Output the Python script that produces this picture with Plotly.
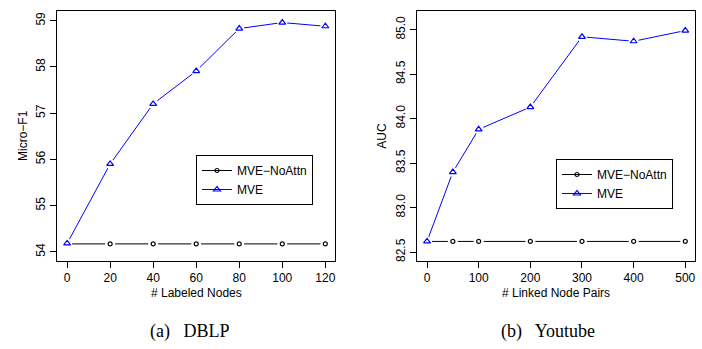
import plotly.graph_objects as go

# ---- data ----
dblp_x = [0, 20, 40, 60, 80, 100, 120]
dblp_noattn = [54.17, 54.17, 54.17, 54.17, 54.17, 54.17, 54.17]
dblp_mve = [54.18, 55.90, 57.20, 57.91, 58.83, 58.96, 58.88]

yt_x = [0, 50, 100, 200, 300, 400, 500]
yt_noattn = [82.62, 82.62, 82.62, 82.62, 82.62, 82.62, 82.62]
yt_mve = [82.62, 83.40, 83.88, 84.13, 84.92, 84.87, 84.99]

dblp_yticks = [54, 55, 56, 57, 58, 59]
dblp_xticks = [0, 20, 40, 60, 80, 100, 120]
yt_yticks = [82.5, 83.0, 83.5, 84.0, 84.5, 85.0]
yt_xticks = [0, 100, 200, 300, 400, 500]

W, H = 702, 349
SANS = "Liberation Sans, Arial, sans-serif"
SERIF = "Liberation Serif, Times New Roman, serif"

fig = go.Figure()

def add_series(x, y, name, color, symbol, size, xa, ya, legend):
    # main trace (line + markers, shown in legend)
    fig.add_trace(go.Scatter(
        x=x, y=y, mode="lines+markers", name=name,
        xaxis=xa, yaxis=ya, legend=legend,
        line=dict(color=color, width=1),
        marker=dict(symbol=symbol, size=size, color=color, line=dict(width=1.2)),
    ))
    # white halo to make gaps between line and points (R type="b")
    fig.add_trace(go.Scatter(
        x=x, y=y, mode="markers", showlegend=False, hoverinfo="skip",
        xaxis=xa, yaxis=ya,
        marker=dict(symbol="circle", size=10, color="white", line=dict(width=0)),
    ))
    # the points on top
    fig.add_trace(go.Scatter(
        x=x, y=y, mode="markers", showlegend=False, hoverinfo="skip",
        xaxis=xa, yaxis=ya,
        marker=dict(symbol=symbol, size=size, color=color, line=dict(width=1.2)),
    ))

add_series(dblp_x, dblp_noattn, "MVE\u2212NoAttn", "black", "circle-open", 4, "x", "y", "legend")
add_series(dblp_x, dblp_mve, "MVE", "blue", "triangle-up-open", 6, "x", "y", "legend")
add_series(yt_x, yt_noattn, "MVE\u2212NoAttn", "black", "circle-open", 4, "x2", "y2", "legend2")
add_series(yt_x, yt_mve, "MVE", "blue", "triangle-up-open", 6, "x2", "y2", "legend2")

def px_x(p):
    return p / W

def px_y(p):
    return 1 - p / H

axis_common = dict(
    showline=True, linecolor="black", linewidth=1, mirror=True,
    ticks="outside", ticklen=6, tickwidth=1, tickcolor="black",
    showgrid=False, zeroline=False,
    tickfont=dict(family=SANS, size=12, color="black"),
    automargin=False,
)

legend_common = dict(
    xanchor="left", yanchor="top",
    bordercolor="black", borderwidth=1, bgcolor="white",
    font=dict(family=SANS, size=12, color="black"),
    itemwidth=30, tracegroupgap=0,
)

fig.update_layout(
    width=W, height=H,
    margin=dict(l=0, r=0, t=0, b=0),
    paper_bgcolor="white", plot_bgcolor="white",
    xaxis=dict(domain=[px_x(57), px_x(335)], range=[-4.7, 124.5],
               tickvals=dblp_xticks, anchor="y", **axis_common),
    yaxis=dict(domain=[px_y(261), px_y(11)], range=[53.80, 59.21],
               tickvals=dblp_yticks, tickangle=-90, anchor="x", **axis_common),
    xaxis2=dict(domain=[px_x(416.7), px_x(695)], range=[-20, 518.8],
                tickvals=yt_xticks, anchor="y2", **axis_common),
    yaxis2=dict(domain=[px_y(261), px_y(11)], range=[82.40, 85.21],
                tickvals=yt_yticks, tickformat=".1f", tickangle=-90, anchor="x2", **axis_common),
    legend=dict(x=px_x(196), y=px_y(155), **legend_common),
    legend2=dict(x=px_x(556), y=px_y(159), **legend_common),
    showlegend=True,
)

annots = [
    dict(text="Micro\u2212F1", x=px_x(23), y=px_y(136), textangle=-90),
    dict(text="AUC", x=px_x(381.7), y=px_y(136), textangle=-90),
    dict(text="# Labeled Nodes", x=px_x(196), y=px_y(293)),
    dict(text="# Linked Node Pairs", x=px_x(556), y=px_y(293)),
]
for a in annots:
    fig.add_annotation(xref="paper", yref="paper", showarrow=False,
                       xanchor="center", yanchor="middle",
                       font=dict(family=SANS, size=12, color="black"), **a)

for text, cx in [("(a)\u2002 DBLP", 190), ("(b)\u2002 Youtube", 548)]:
    fig.add_annotation(xref="paper", yref="paper", showarrow=False,
                       x=px_x(cx), y=px_y(331), xanchor="center", yanchor="middle",
                       text=text, font=dict(family=SERIF, size=18, color="black"))

fig.write_html("out.html")
